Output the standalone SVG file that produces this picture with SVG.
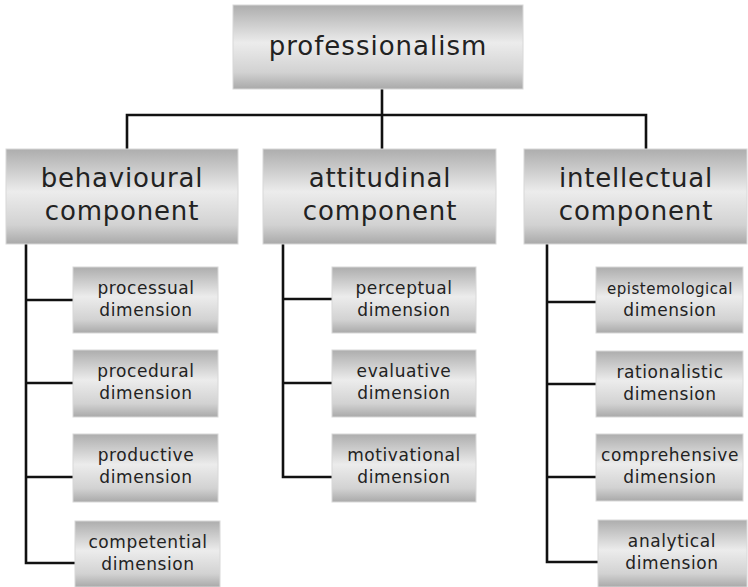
<svg xmlns="http://www.w3.org/2000/svg" width="748" height="587" viewBox="0 0 748 587">
<defs>
<linearGradient id="g" x1="0" y1="0" x2="0" y2="1">
<stop offset="0" stop-color="#adadad"/>
<stop offset="0.45" stop-color="#ececec"/>
<stop offset="0.8" stop-color="#d2d2d2"/>
<stop offset="1" stop-color="#a9a9a9"/>
</linearGradient>
<style>
.box{fill:url(#g);stroke:#d8d8d8;stroke-width:1}
.t{font-family:"DejaVu Sans",sans-serif;fill:#222;text-anchor:middle}
.big{font-size:26px;letter-spacing:1px}
.mid{font-size:26px;letter-spacing:0.8px}
.sm{font-size:17px;letter-spacing:0.6px}
.xs{font-size:15px;letter-spacing:0.5px}
.c{fill:none;stroke:#111;stroke-width:2.6}
</style>
</defs>
<rect width="748" height="587" fill="#fff"/>
<g id="connectors">
<path class="c" d="M382 89V149M127 149V115H646V149"/>
<path class="c" d="M26 244V563H76M26 300H76M26 383H76M26 477H76"/>
<path class="c" d="M283 244V477H333M283 299H333M283 383H333"/>
<path class="c" d="M547 244V562H598M547 302H597M547 384H597M547 477H597"/>
</g>
<g id="professionalism"><rect class="box" x="233" y="5" width="290" height="84"/><text class="t big" x="378" y="55">professionalism</text></g>
<g id="behavioural"><rect class="box" x="6" y="149" width="232" height="95"/><text class="t mid" x="122" y="187">behavioural</text><text class="t mid" x="122" y="220">component</text></g>
<g id="attitudinal"><rect class="box" x="263" y="149" width="233" height="95"/><text class="t mid" x="380" y="187">attitudinal</text><text class="t mid" x="380" y="220">component</text></g>
<g id="intellectual"><rect class="box" x="524" y="149" width="223" height="95"/><text class="t mid" x="636" y="187">intellectual</text><text class="t mid" x="636" y="220">component</text></g>
<g id="processual"><rect class="box" x="73" y="267" width="145" height="66"/><text class="t sm" x="146" y="294">processual</text><text class="t sm" x="146" y="316">dimension</text></g>
<g id="procedural"><rect class="box" x="73" y="350" width="145" height="67"/><text class="t sm" x="146" y="377">procedural</text><text class="t sm" x="146" y="399">dimension</text></g>
<g id="productive"><rect class="box" x="73" y="434" width="145" height="68"/><text class="t sm" x="146" y="461">productive</text><text class="t sm" x="146" y="483">dimension</text></g>
<g id="competential"><rect class="box" x="75" y="521" width="145" height="66"/><text class="t sm" x="148" y="548">competential</text><text class="t sm" x="148" y="570">dimension</text></g>
<g id="perceptual"><rect class="box" x="332" y="267" width="144" height="66"/><text class="t sm" x="404" y="294">perceptual</text><text class="t sm" x="404" y="316">dimension</text></g>
<g id="evaluative"><rect class="box" x="332" y="350" width="144" height="67"/><text class="t sm" x="404" y="377">evaluative</text><text class="t sm" x="404" y="399">dimension</text></g>
<g id="motivational"><rect class="box" x="332" y="434" width="144" height="68"/><text class="t sm" x="404" y="461">motivational</text><text class="t sm" x="404" y="483">dimension</text></g>
<g id="epistemological"><rect class="box" x="596" y="267" width="147" height="66"/><text class="t xs" x="670" y="294">epistemological</text><text class="t sm" x="670" y="316">dimension</text></g>
<g id="rationalistic"><rect class="box" x="596" y="351" width="147" height="66"/><text class="t sm" x="670" y="378">rationalistic</text><text class="t sm" x="670" y="400">dimension</text></g>
<g id="comprehensive"><rect class="box" x="596" y="434" width="147" height="67"/><text class="t sm" x="670" y="461">comprehensive</text><text class="t sm" x="670" y="483">dimension</text></g>
<g id="analytical"><rect class="box" x="598" y="520" width="149" height="67"/><text class="t sm" x="672" y="547">analytical</text><text class="t sm" x="672" y="569">dimension</text></g>
</svg>
